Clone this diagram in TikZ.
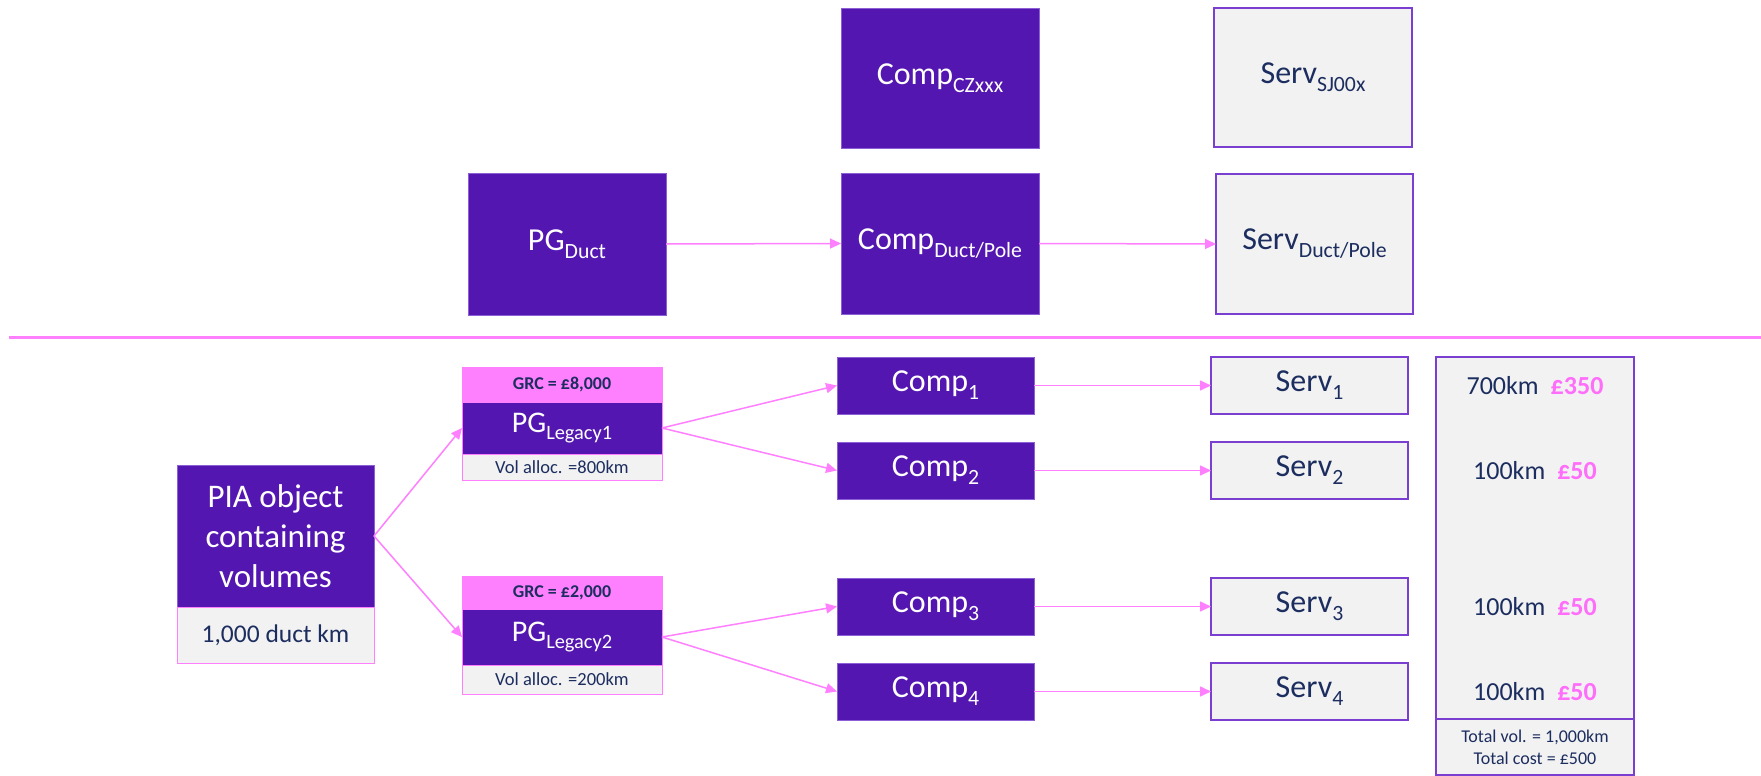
\documentclass[tikz,border=0pt]{standalone}
\usepackage{fontspec}
\setmainfont{Carlito}
\usetikzlibrary{arrows.meta}

\definecolor{opurple}{RGB}{84,22,176}
\definecolor{oedge}{RGB}{140,95,215}
\definecolor{opink}{RGB}{255,128,255}
\definecolor{omag}{RGB}{255,110,250}
\definecolor{ogray}{RGB}{242,242,242}
\definecolor{onavy}{RGB}{28,45,95}
\definecolor{oframe}{RGB}{122,62,208}

% lowered, reduced subscript text
\newcommand\subtxt[1]{\raisebox{-0.25em}{\scalebox{0.68}{#1}}}
\newcommand\fs[2]{\fontsize{#1}{#2}\selectfont}

\begin{document}
\begin{tikzpicture}[x=1pt,y=-1pt,
  every node/.style={inner sep=0pt, outer sep=0pt},
  pbox/.style={rectangle, fill=opurple, draw=oedge, line width=0.8pt, text=white, font=\fs{32}{38}},
  sbox/.style={rectangle, fill=ogray, draw=oframe, line width=1.4pt, text=onavy, font=\fs{32}{38}},
  grcbox/.style={rectangle, fill=opink, draw=opink, line width=1pt, text=onavy, font=\bfseries\fs{18}{21}},
  volbox/.style={rectangle, fill=ogray, draw=opink, line width=1pt, text=onavy, font=\fs{18.5}{21}},
  rowtxt/.style={text=onavy, font=\fs{26}{30}},
  conn/.style={draw=opink, line width=1.5pt, -{Triangle[length=11pt,width=10pt]}}
]
\useasboundingbox (0,0) rectangle (1761,776);

% ---- upper part ----
\node[pbox, minimum width=198, minimum height=142] (pgduct) at (567,244) {PG\subtxt{Duct}};
\node[pbox, minimum width=198, minimum height=140] (compcz) at (940,78.5) {Comp\subtxt{CZxxx}};
\node[pbox, minimum width=198, minimum height=141] (compdp) at (940,243.5) {Comp\subtxt{Duct/Pole}};
\node[sbox, minimum width=198, minimum height=139] (servsj) at (1313,77.5) {Serv\subtxt{SJ00x}};
\node[sbox, minimum width=197, minimum height=140] (servdp) at (1314.5,244) {Serv\subtxt{Duct/Pole}};

\draw[conn] (pgduct.east) -- (compdp.west);
\draw[conn] (compdp.east) -- (servdp.west);

% separator
\coordinate (sepl) at (9,337);
\coordinate (sepr) at (1761,337);
\draw[opink, line width=3pt] (sepl) -- (sepr);

% ---- lower part ----
\node[pbox, minimum width=197, minimum height=142, font=\fs{33}{40}, align=center] (pia) at (275.5,536)
  {PIA object\\containing\\volumes};
\node[volbox, minimum width=197, minimum height=56, font=\fs{25.5}{30}] (piavol) at (275.5,635) {1,000 duct km};

% legacy group 1
\node[grcbox, minimum width=200, minimum height=35] (grc1) at (562,384.5) {GRC = £8,000};
\node[pbox, draw=opink, minimum width=200, minimum height=52, font=\fs{30}{34}] (pgl1) at (562,428) {PG\subtxt{Legacy1}};
\node[volbox, minimum width=200, minimum height=26] (vol1) at (562,467) {Vol alloc. =800km};

% legacy group 2
\node[grcbox, minimum width=200, minimum height=33] (grc2) at (562,592.5) {GRC = £2,000};
\node[pbox, draw=opink, minimum width=200, minimum height=56, font=\fs{30}{34}] (pgl2) at (562,637) {PG\subtxt{Legacy2}};
\node[volbox, minimum width=200, minimum height=29] (vol2) at (562,679.5) {Vol alloc. =200km};

% components
\node[pbox, minimum width=197, minimum height=57] (comp1) at (935.5,385.5) {Comp\subtxt{1}};
\node[pbox, minimum width=197, minimum height=57] (comp2) at (935.5,470.5) {Comp\subtxt{2}};
\node[pbox, minimum width=197, minimum height=57] (comp3) at (935.5,606.5) {Comp\subtxt{3}};
\node[pbox, minimum width=197, minimum height=57] (comp4) at (935.5,691.5) {Comp\subtxt{4}};

% services
\node[sbox, minimum width=197, minimum height=57] (serv1) at (1309.5,385.5) {Serv\subtxt{1}};
\node[sbox, minimum width=197, minimum height=57] (serv2) at (1309.5,470.5) {Serv\subtxt{2}};
\node[sbox, minimum width=197, minimum height=57] (serv3) at (1309.5,606.5) {Serv\subtxt{3}};
\node[sbox, minimum width=197, minimum height=57] (serv4) at (1309.5,691.5) {Serv\subtxt{4}};

% summary column
\node[sbox, minimum width=198, minimum height=362] (summary) at (1535,538) {};
\node[sbox, minimum width=198, minimum height=56, font=\fs{18}{22}, align=center] (totals) at (1535,747)
  {Total vol. = 1,000km\\Total cost = £500};
\node[rowtxt] (row1) at (summary.center |- comp1.center) {700km\hspace{12pt}{\bfseries\color{omag}£350}};
\node[rowtxt] (row2) at (summary.center |- comp2.center) {100km\hspace{12pt}{\bfseries\color{omag}£50}};
\node[rowtxt] (row3) at (summary.center |- comp3.center) {100km\hspace{12pt}{\bfseries\color{omag}£50}};
\node[rowtxt] (row4) at (summary.center |- comp4.center) {100km\hspace{12pt}{\bfseries\color{omag}£50}};

% connectors
\draw[conn] (pia.east) -- (pgl1.west);
\draw[conn] (pia.east) -- (pgl2.west);
\draw[conn] (pgl1.east) -- (comp1.west);
\draw[conn] (pgl1.east) -- (comp2.west);
\draw[conn] (pgl2.east) -- (comp3.west);
\draw[conn] (pgl2.east) -- (comp4.west);
\draw[conn] (comp1.east) -- (serv1.west);
\draw[conn] (comp2.east) -- (serv2.west);
\draw[conn] (comp3.east) -- (serv3.west);
\draw[conn] (comp4.east) -- (serv4.west);
\end{tikzpicture}
\end{document}
